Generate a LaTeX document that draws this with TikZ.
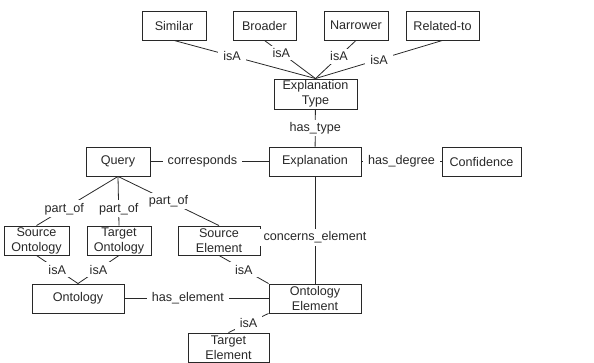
\documentclass[tikz,border=0pt]{standalone}
\usepackage{fontspec}
\setmainfont{Liberation Sans}
\usepackage{tikz}
\usetikzlibrary{positioning}
\definecolor{ink}{RGB}{40,40,40}
\tikzset{
  cbox/.style={draw=ink, line width=0.9pt, minimum height=29pt, inner sep=0pt,
               align=center, font=\fontsize{12.6}{15}\selectfont, text=ink},
  rel/.style={ink, line width=0.8pt},
  rlabel/.style={fill=white, inner xsep=5pt, inner ysep=2.5pt,
                 font=\fontsize{12.6}{14}\selectfont, text=ink},
}

\begin{document}
\begin{tikzpicture}[x=1pt,y=-1pt]
  \useasboundingbox (0,0) rectangle (594,363);
  % ====== explanation types ======
  \node[cbox, minimum width=64pt] (sim) at (174,25.5)   {Similar};
  \node[cbox, minimum width=63pt] (bro) at (264.5,25.5) {Broader};
  \node[cbox, minimum width=64pt] (nar) at (356,25.5)   {Narrower};
  \node[cbox, minimum width=73pt] (rel) at (442.5,25.5) {Related-to};
  \node[cbox, minimum width=83pt, minimum height=30pt] (etype) at (315.5,94) {Explanation\\Type};
  % ====== middle row ======
  \node[cbox, minimum width=64pt] (query) at (118,161.5) {Query};
  \node[cbox, minimum width=92pt] (expl)  at (315,161.5) {Explanation};
  \node[cbox, minimum width=79pt] (conf)  at (481.5,161.5) {Confidence};
  % ====== ontologies and elements ======
  \node[cbox, minimum width=65pt] (sont)  at (36.5,240.5) {Source\\Ontology};
  \node[cbox, minimum width=64pt] (tont)  at (119,240.5)  {Target\\Ontology};
  \node[cbox, minimum width=82pt] (selem) at (219,240.5)  {Source\\Element};
  \node[cbox, minimum width=92pt] (ont)   at (78,298.5)   {Ontology};
  \node[cbox, minimum width=92pt] (oelem) at (315,298.5)  {Ontology\\Element};
  \node[cbox, minimum width=81pt] (telem) at (228.5,347.5) {Target\\Element};
  % ====== relations ======
  \draw[rel] (sim.south) -- node[rlabel, pos=0.41] {isA} (etype.north);
  \draw[rel] (bro.south) -- node[rlabel, pos=0.33] {isA} (etype.north);
  \draw[rel] (nar.south) -- node[rlabel, pos=0.42] {isA} (etype.north);
  \draw[rel] (rel.south) -- node[rlabel, pos=0.5]  {isA} (etype.north);
  \draw[rel] (etype) -- node[rlabel] {has\_type} (expl);
  \draw[rel] (query) -- node[rlabel, pos=0.44] {corresponds} (expl);
  \draw[rel] (expl) -- node[rlabel] {has\_degree} (conf);
  \draw[rel] (query.south) -- node[rlabel, pos=0.66] {part\_of} (sont.north);
  \draw[rel] (query.south) -- node[rlabel, pos=0.66] {part\_of} (tont.north);
  \draw[rel] (query.south) -- node[rlabel, pos=0.5]  {part\_of} (selem.north);
  \draw[rel] (expl) -- node[rlabel, pos=0.57] {concerns\_element} (oelem);
  \draw[rel] (sont.south) -- node[rlabel] {isA} (ont.north);
  \draw[rel] (tont.south) -- node[rlabel] {isA} (ont.north);
  \draw[rel] (selem.south) -- node[rlabel] {isA} (oelem.north west);
  \draw[rel] (ont) -- node[rlabel, pos=0.44] {has\_element} (oelem);
  \draw[rel] (oelem.south west) -- node[rlabel] {isA} (telem.north);
\end{tikzpicture}
\end{document}
